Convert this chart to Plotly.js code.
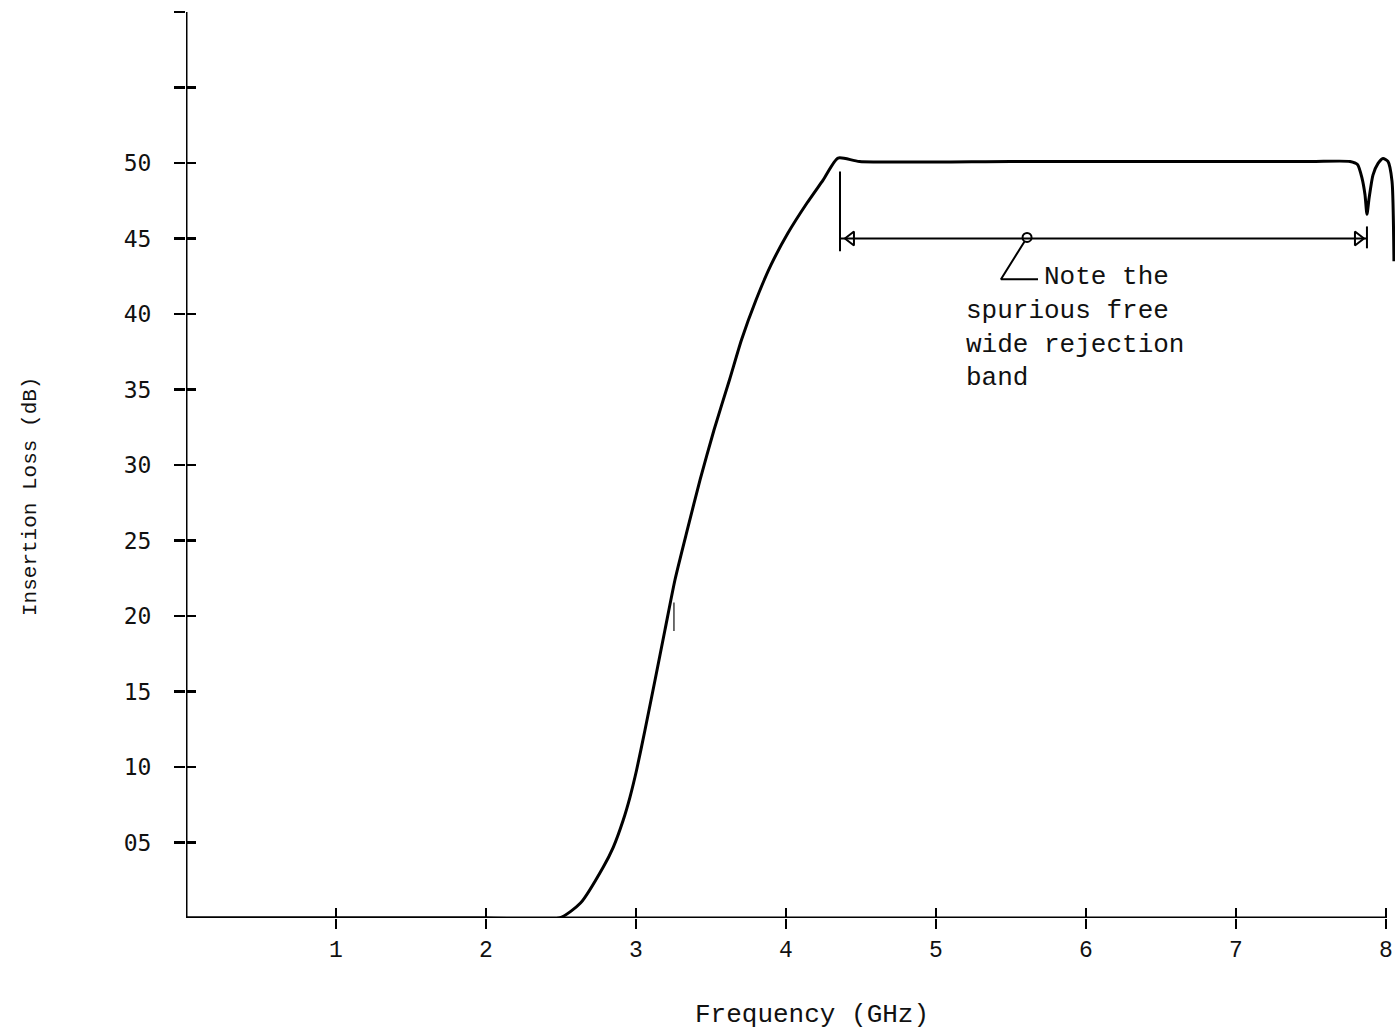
<!DOCTYPE html>
<html>
<head>
<meta charset="utf-8">
<script src="https://cdn.plot.ly/plotly-3.0.1.min.js"></script>
<style>html,body{margin:0;padding:0;background:#fff;}#chart{width:1395px;height:1033px;}</style>
</head>
<body>
<div id="chart"></div>
<script>
// ---- Data ----
var freqGHz = [0, 1, 2, 2.49, 2.63, 2.782, 2.849, 2.915, 2.96, 3.004, 3.06, 3.127, 3.193, 3.26, 3.342, 3.427, 3.52, 3.623, 3.703, 3.8, 3.9, 4.013, 4.14, 4.247, 4.347, 4.49, 5.5, 6.5, 7.5, 7.76, 7.81, 7.84, 7.86, 7.873, 7.887, 7.913, 7.947, 7.98, 8.013, 8.04, 8.053];
var lossDb  = [0, 0, 0, 0, 0.99, 3.38, 4.70, 6.49, 8.01, 9.8, 12.45, 15.76, 19.07, 22.4, 25.7, 29.01, 32.32, 35.63, 38.28, 40.93, 43.25, 45.36, 47.35, 48.87, 50.33, 50.1, 50.1, 50.1, 50.1, 50.1, 49.9, 49.0, 47.9, 46.6, 47.65, 49.2, 49.97, 50.3, 50.1, 48.8, 43.5];

var xTickVals = [1, 2, 3, 4, 5, 6, 7, 8];
var xTickText = ['1', '2', '3', '4', '5', '6', '7', '8'];
var yTickVals = [5, 10, 15, 20, 25, 30, 35, 40, 45, 50, 55, 60];
var yTickText = ['05', '10', '15', '20', '25', '30', '35', '40', '45', '50', '', ''];

// rejection-band dimension arrow
var bandStart = 4.36, bandEnd = 7.873, bandLevel = 45;
var bandBarX = [4.36, 4.36, null, 7.873, 7.873];
var bandBarY = [49.44, 44.15, null, 45.8, 44.35];
var arrowHeadX = [4.433, 7.813];
var arrowHeadY = [45, 45];
var arrowHeadSymbols = ['triangle-left-open', 'triangle-right-open'];
// note leader
var leaderX = [5.607, 5.433, 5.68];
var leaderY = [45.07, 42.3, 42.3];
var noteX = 5.187, noteY = 39.1;
var noteText = '\u00a0\u00a0\u00a0\u00a0\u00a0Note the<br>spurious free<br>wide rejection<br>band';
// small stray stroke visible in the original scan
var strokeX = [3.253, 3.253];
var strokeY = [20.9, 19.0];

var xRange = [0, 8.06];
var yRange = [0, 60];

var black = '#000';
var mono = 'Liberation Mono, Courier New, monospace';

var traces = [
  {x: freqGHz, y: lossDb, mode: 'lines', line: {color: black, width: 3, shape: 'spline', smoothing: 0.6}, hoverinfo: 'x+y', name: 'Insertion loss'},
  {x: strokeX, y: strokeY, mode: 'lines', line: {color: '#222', width: 1.3}, hoverinfo: 'skip'},
  {x: [bandStart, bandEnd], y: [bandLevel, bandLevel], mode: 'lines', line: {color: black, width: 2}, hoverinfo: 'skip', xaxis: 'x2', yaxis: 'y2'},
  {x: bandBarX, y: bandBarY, mode: 'lines', line: {color: black, width: 2}, hoverinfo: 'skip'},
  {x: arrowHeadX, y: arrowHeadY, mode: 'markers', marker: {symbol: arrowHeadSymbols, size: 12, color: black, line: {color: black, width: 2}}, hoverinfo: 'skip'},
  {x: leaderX, y: leaderY, mode: 'lines', line: {color: black, width: 2}, hoverinfo: 'skip'},
  {x: [leaderX[0]], y: [leaderY[0]], mode: 'markers', marker: {symbol: 'circle', size: 9, color: '#fff', line: {color: black, width: 2}}, hoverinfo: 'skip'}
];

var axCommon = {showgrid: false, zeroline: false, showline: false, linecolor: black, tickcolor: black, tickwidth: 2.5, fixedrange: true};

var layout = {
  width: 1395, height: 1033,
  margin: {l: 186, r: 0, t: 12, b: 115},
  paper_bgcolor: '#fff', plot_bgcolor: '#fff',
  showlegend: false,
  xaxis: Object.assign({}, axCommon, {
    range: xRange, tickmode: 'array', tickvals: xTickVals, ticktext: xTickText,
    ticks: 'outside', ticklen: 10, ticklabelstandoff: 0,
    tickfont: {family: mono, size: 23, color: '#111'}
  }),
  xaxis2: Object.assign({}, axCommon, {
    range: xRange, overlaying: 'x', anchor: 'y2', side: 'bottom', tickmode: 'array', tickvals: xTickVals,
    ticks: 'inside', ticklen: 10, showticklabels: false
  }),
  yaxis: Object.assign({}, axCommon, {
    range: yRange, tickmode: 'array', tickvals: yTickVals, ticktext: yTickText,
    ticks: 'outside', ticklen: 11, ticklabelstandoff: 18,
    tickfont: {family: 'DejaVu Sans Mono, monospace', size: 23, color: '#111'}
  }),
  yaxis2: Object.assign({}, axCommon, {
    range: yRange, overlaying: 'y', anchor: 'x2', side: 'left', tickmode: 'array', tickvals: yTickVals,
    ticks: 'inside', ticklen: 10, showticklabels: false
  }),
  shapes: [
    {type: 'line', xref: 'x', yref: 'y', x0: 0, x1: 8, y0: 0, y1: 0, line: {color: black, width: 3}},
    {type: 'line', xref: 'x', yref: 'y', x0: 0, x1: 0, y0: 0, y1: 60, line: {color: black, width: 3}}
  ],
  annotations: [
    {xref: 'x', yref: 'y', x: noteX, y: noteY, xanchor: 'left', yanchor: 'middle', align: 'left', showarrow: false,
     text: noteText, font: {family: mono, size: 26, color: '#111'}},
    {xref: 'paper', yref: 'paper', x: 0.5, xshift: 21, y: 0, yshift: -97, xanchor: 'center', yanchor: 'middle', showarrow: false,
     text: 'Frequency (GHz)', font: {family: mono, size: 26, color: '#111'}},
    {xref: 'paper', yref: 'paper', x: 0, xshift: -156, y: 0.5, yshift: -32, xanchor: 'center', yanchor: 'middle', showarrow: false, textangle: -90,
     text: 'Insertion Loss (dB)', font: {family: mono, size: 21, color: '#111'}}
  ]
};

Plotly.newPlot('chart', traces, layout, {staticPlot: true, displayModeBar: false});
</script>
</body>
</html>
